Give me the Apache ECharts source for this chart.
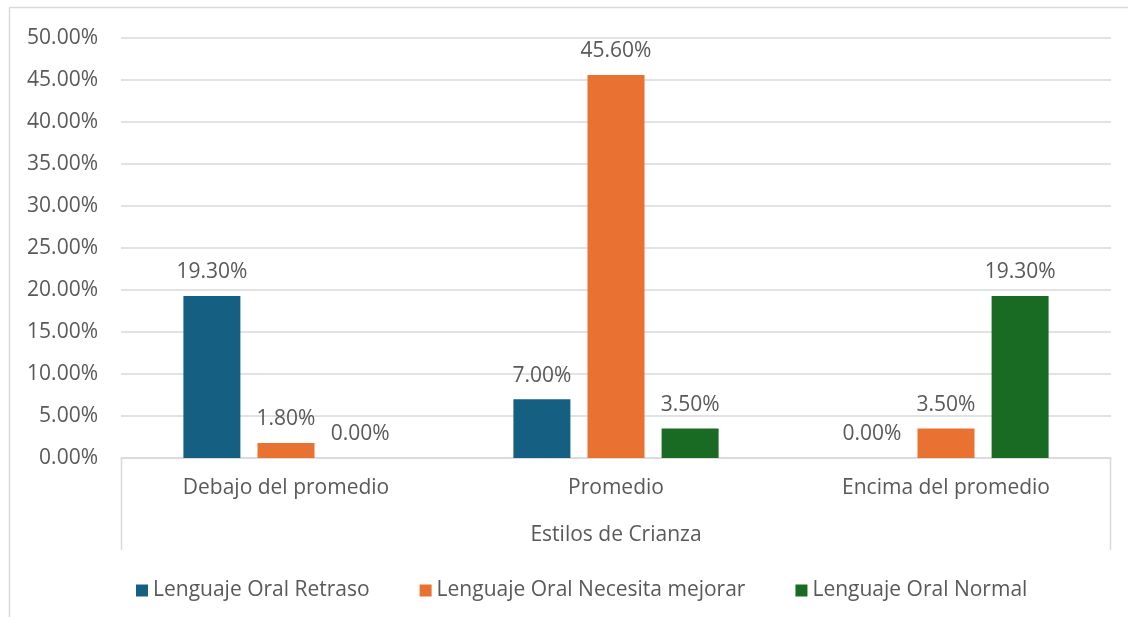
<!DOCTYPE html>
<html>
<head>
<meta charset="utf-8">
<script src="https://cdn.jsdelivr.net/npm/echarts@6/dist/echarts.min.js"></script>
<style>
html,body{margin:0;padding:0;background:#fff;}
#chart{width:1128px;height:617px;}
</style>
</head>
<body>
<div id="chart"></div>
<script>
const categories = ['Debajo del promedio', 'Promedio', 'Encima del promedio'];
const seriesNames = ['Lenguaje Oral Retraso', 'Lenguaje Oral Necesita mejorar', 'Lenguaje Oral Normal'];
const retraso = [19.3, 7.0, 0.0];
const necesita = [1.8, 45.6, 3.5];
const normal = [0.0, 3.5, 19.3];
const colors = ['#156082', '#E97132', '#196B24'];
const axisTitle = 'Estilos de Crianza';

const font = 'Open Sans';
const txt = '#595959';
const line = '#d9d9d9';
const G = { left: 121, right: 17, top: 38, bottom: 159 };
const W = 1128, H = 617;
const chart = echarts.init(document.getElementById('chart'));
const mk = (name, data, i) => ({
  name, type: 'bar', data, barWidth: 57, barGap: '30%',
  itemStyle: { color: colors[i] },
  label: { show: true, position: 'top', distance: 13, color: txt, fontFamily: font, fontSize: 21,
    formatter: p => p.value.toFixed(2) + '%' }
});
const axisY = H - G.bottom;
chart.setOption({
  animation: false,
  graphic: [
    { type: 'line', shape: { x1: 9.5, y1: 7.5, x2: W, y2: 7.5 }, style: { stroke: line, lineWidth: 1.5 }, silent: true },
    { type: 'line', shape: { x1: 9.5, y1: 7.5, x2: 9.5, y2: H }, style: { stroke: line, lineWidth: 1.5 }, silent: true },
    { type: 'line', shape: { x1: G.left + 0.5, y1: axisY, x2: G.left + 0.5, y2: axisY + 92 }, style: { stroke: line, lineWidth: 1.5 }, silent: true },
    { type: 'line', shape: { x1: W - G.right - 0.5, y1: axisY, x2: W - G.right - 0.5, y2: axisY + 92 }, style: { stroke: line, lineWidth: 1.5 }, silent: true }
  ],
  grid: G,
  legend: {
    left: 131, top: 575, itemWidth: 12, itemHeight: 12, itemGap: 50, icon: 'rect',
    textStyle: { color: txt, fontFamily: font, fontSize: 21 },
    data: seriesNames
  },
  xAxis: {
    type: 'category', data: categories,
    name: axisTitle, nameLocation: 'middle', nameGap: 67,
    nameTextStyle: { color: txt, fontFamily: font, fontSize: 21 },
    axisLine: { lineStyle: { color: line, width: 1.5 } },
    axisTick: { show: false },
    axisLabel: { color: txt, fontFamily: font, fontSize: 21, margin: 20 }
  },
  yAxis: {
    type: 'value', min: 0, max: 50, interval: 5,
    axisLine: { show: false }, axisTick: { show: false },
    splitLine: { lineStyle: { color: line, width: 1.5 } },
    axisLabel: { color: txt, fontFamily: font, fontSize: 21, margin: 23, formatter: v => v.toFixed(2) + '%' }
  },
  series: [mk(seriesNames[0], retraso, 0), mk(seriesNames[1], necesita, 1), mk(seriesNames[2], normal, 2)]
});
</script>
</body>
</html>
